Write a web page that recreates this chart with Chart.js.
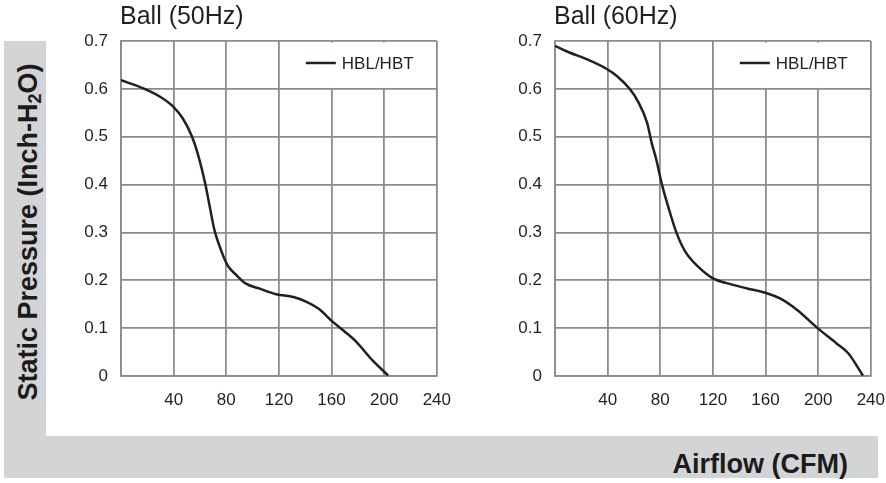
<!DOCTYPE html>
<html>
<head>
<meta charset="utf-8">
<script src="https://cdn.jsdelivr.net/npm/chart.js@4"></script>
<style>
  body { margin: 0; background: #fff; font-family: "Liberation Sans", Arial, sans-serif; }
  #page { position: relative; width: 886px; height: 483px; overflow: hidden; }
  .band { position: absolute; background: #d3d4d6; }
  .wrap { position: absolute; top: 0; width: 415px; height: 430px; }
  #ylab {
    position: absolute; left: 28px; top: 232px; white-space: nowrap;
    transform: translate(-50%, -50%) rotate(-90deg);
    font-weight: bold; font-size: 27px; color: #1d1a1b;
  }
  #ylab sub { font-size: 18px; vertical-align: -4px; line-height: 0; }
  #xlab {
    position: absolute; right: 38px; top: 449px; white-space: nowrap;
    font-weight: bold; font-size: 27px; color: #1d1a1b;
  }
</style>
</head>
<body>
<div id="page">
  <div class="band" style="left:4px; top:41px; width:42px; height:437px;"></div>
  <div class="band" style="left:4px; top:436px; width:874px; height:42px;"></div>
  <div id="ylab">Static Pressure (Inch-H<sub>2</sub>O)</div>
  <div id="xlab">Airflow (CFM)</div>
  <div class="wrap" style="left:50px;"><canvas id="c50"></canvas></div>
  <div class="wrap" style="left:484px;"><canvas id="c60"></canvas></div>
</div>
<script>
// panel titles and legend
const panelTitles = ['Ball (50Hz)', 'Ball (60Hz)'];
const seriesName = 'HBL/HBT';

// axis ticks
const xTicks = [0, 40, 80, 120, 160, 200, 240];
const yTicks = [0, 0.1, 0.2, 0.3, 0.4, 0.5, 0.6, 0.7];

// 50Hz curve: airflow (CFM) and static pressure (inch H2O)
const flow50 = [0, 17, 30, 40, 47, 54, 59, 64, 67.5, 71, 76, 81, 88, 95, 105, 118, 131, 141, 150, 161, 169, 179, 191, 203];
const pres50 = [0.618, 0.601, 0.583, 0.562, 0.538, 0.5, 0.458, 0.402, 0.353, 0.305, 0.263, 0.231, 0.21, 0.193, 0.183, 0.171, 0.165, 0.155, 0.141, 0.113, 0.095, 0.071, 0.033, 0.001];

// 60Hz curve
const flow60 = [0, 11, 24, 39, 47, 57, 63, 70, 73.5, 77, 81, 86, 92.5, 99, 109, 120, 130.5, 146, 161, 171, 184, 200, 214, 223, 234];
const pres60 = [0.69, 0.676, 0.662, 0.642, 0.627, 0.599, 0.574, 0.529, 0.487, 0.452, 0.403, 0.354, 0.298, 0.26, 0.228, 0.204, 0.194, 0.183, 0.173, 0.162, 0.138, 0.099, 0.068, 0.047, 0.001];

const font = '"Liberation Sans", Arial, sans-serif';
const gridColor = '#8c8c8c';
const textColor = '#231f20';

// title drawn above the plot, aligned with its left edge
const titlePlugin = {
    id: 'panelTitle',
    afterDraw(chart, args, opts) {
        const ctx = chart.ctx;
        ctx.save();
        ctx.font = '25px ' + font;
        ctx.fillStyle = textColor;
        ctx.textBaseline = 'alphabetic';
        ctx.fillText(opts.text, chart.chartArea.left - 1, 24);
        ctx.restore();
    }
};

// legend box sitting in the top right corner of the plot
const boxLegend = {
    id: 'boxLegend',
    beforeDatasetsDraw(chart) {
        const ctx = chart.ctx;
        const a = chart.chartArea;
        const yb = chart.scales.y.getPixelForValue(0.6);
        ctx.save();
        ctx.fillStyle = '#fff';
        ctx.fillRect(a.right - 148, a.top + 1.5, 146.5, yb - a.top - 2.5);
        const ly = a.top + 22;
        ctx.strokeStyle = textColor;
        ctx.lineWidth = 2.5;
        ctx.beginPath();
        ctx.moveTo(a.right - 131, ly);
        ctx.lineTo(a.right - 101, ly);
        ctx.stroke();
        ctx.font = '17px ' + font;
        ctx.fillStyle = textColor;
        ctx.textBaseline = 'middle';
        ctx.fillText(chart.data.datasets[0].label, a.right - 95, ly + 1);
        ctx.restore();
    }
};

function makeChart(id, title, xs, ys) {
    const points = xs.map((x, i) => ({ x: x, y: ys[i] }));
    return new Chart(document.getElementById(id), {
        type: 'line',
        data: {
            datasets: [{
                label: seriesName,
                data: points,
                borderColor: textColor,
                borderWidth: 2.5,
                pointRadius: 0,
                cubicInterpolationMode: 'monotone',
                fill: false
            }]
        },
        options: {
            responsive: true,
            maintainAspectRatio: false,
            animation: false,
            layout: { padding: { top: 41, right: 23, bottom: 0, left: 0 } },
            plugins: {
                legend: { display: false },
                tooltip: { enabled: false },
                panelTitle: { text: title }
            },
            scales: {
                x: {
                    type: 'linear',
                    min: xTicks[0],
                    max: xTicks[xTicks.length - 1],
                    afterBuildTicks: s => { s.ticks = xTicks.map(v => ({ value: v })); },
                    afterFit: s => { s.height = 54; },
                    grid: { color: gridColor, lineWidth: 1.8, drawTicks: false },
                    border: { color: gridColor, width: 1.8 },
                    ticks: {
                        padding: 14,
                        color: textColor,
                        font: { family: font, size: 17 },
                        maxRotation: 0,
                        callback: v => (v === 0 ? '' : String(v))
                    }
                },
                y: {
                    type: 'linear',
                    min: yTicks[0],
                    max: yTicks[yTicks.length - 1],
                    afterBuildTicks: s => { s.ticks = yTicks.map(v => ({ value: v })); },
                    afterFit: s => { s.width = 71; },
                    grid: { color: gridColor, lineWidth: 1.8, drawTicks: false },
                    border: { color: gridColor, width: 1.8 },
                    ticks: {
                        padding: 13,
                        color: textColor,
                        font: { family: font, size: 17 },
                        callback: v => (v === 0 ? '0' : v.toFixed(1))
                    }
                }
            }
        },
        plugins: [titlePlugin, boxLegend]
    });
}

makeChart('c50', panelTitles[0], flow50, pres50);
makeChart('c60', panelTitles[1], flow60, pres60);
</script>
</body>
</html>
